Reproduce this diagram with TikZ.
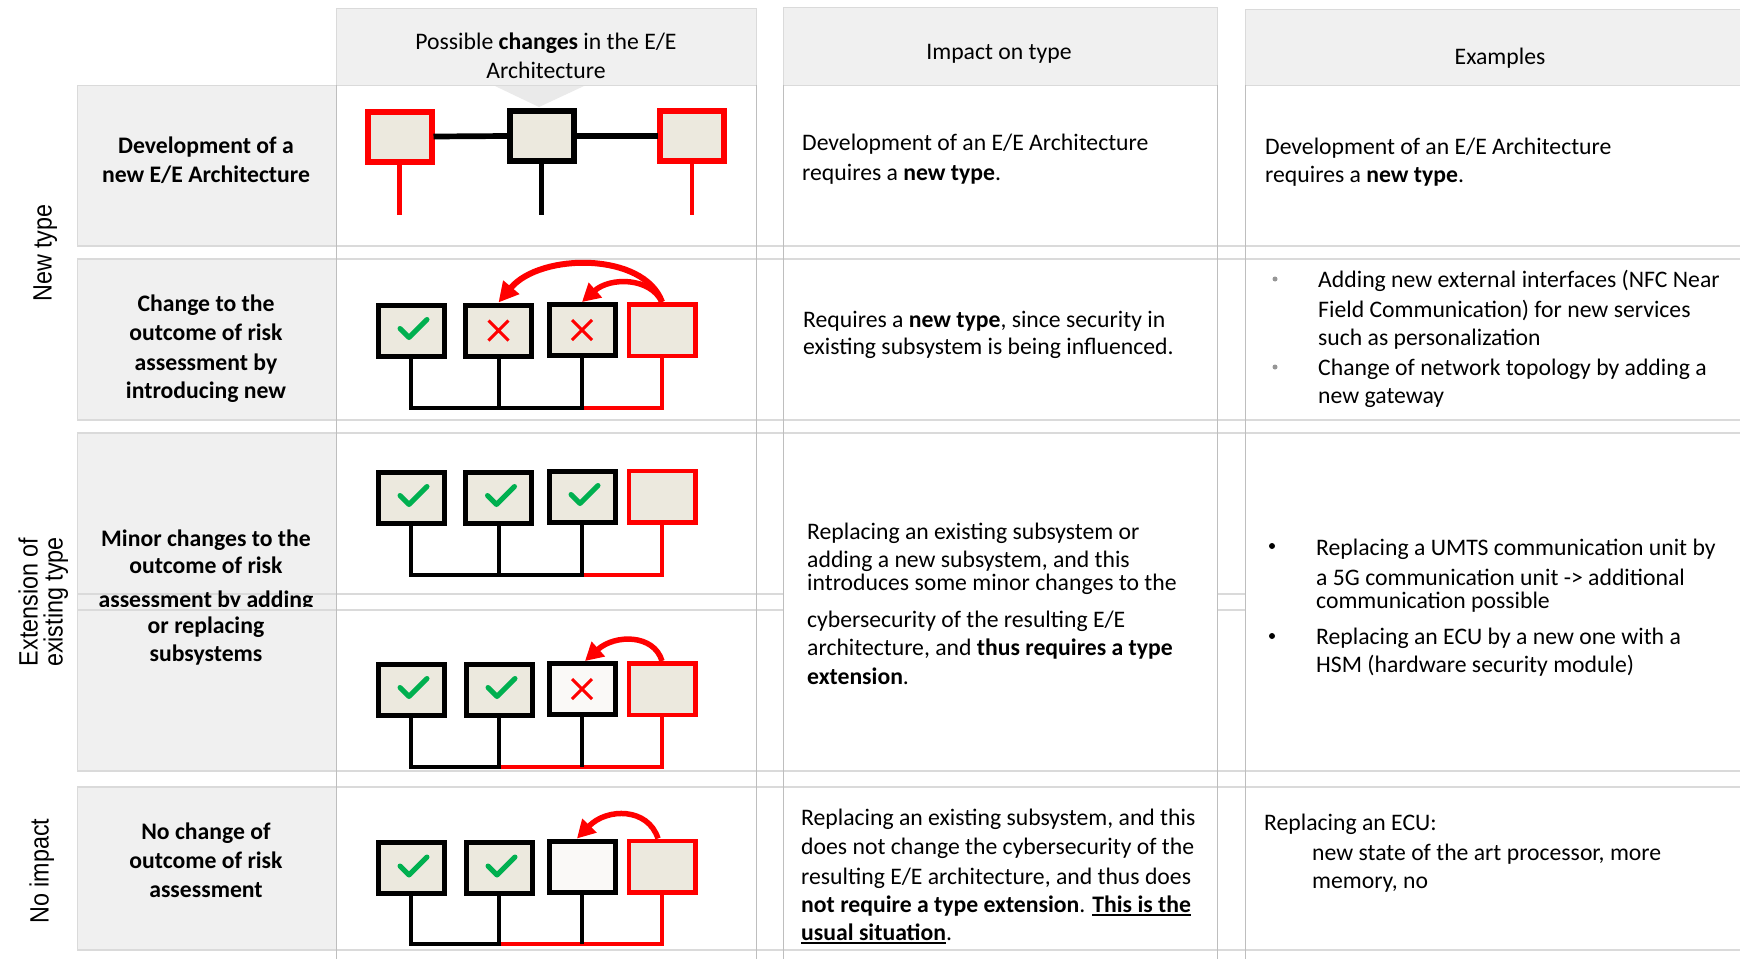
\documentclass[tikz,border=0pt]{standalone}
\usepackage{fontspec}
\setmainfont{Carlito}
\newfontfamily\sidefont[FakeStretch=0.88]{Liberation Sans}
\usetikzlibrary{arrows.meta}

\definecolor{hdrfill}{RGB}{240,240,240}
\definecolor{sidefill}{RGB}{240,240,240}
\definecolor{hgrid}{RGB}{218,218,218}
\definecolor{vgrid}{RGB}{190,190,190}
\definecolor{ptrfill}{RGB}{234,234,234}
\definecolor{ecufill}{RGB}{236,233,222}
\definecolor{ecupale}{RGB}{250,249,247}
\definecolor{newred}{RGB}{255,0,0}
\definecolor{okgreen}{RGB}{0,176,80}
\definecolor{dotgray}{RGB}{150,150,150}

\newcommand\bodysize{\fontsize{23.7}{29}\selectfont}
% underline drawn as a rule a little below the baseline
\newcommand\undl[1]{\setbox0\hbox{#1}\rlap{\rule[-4pt]{\wd0}{1.8pt}}\box0}

\begin{document}
\begin{tikzpicture}[x=1pt,y=-1pt,
  hdrcell/.style={fill=hdrfill,draw=hgrid,line width=1pt},
  sidecell/.style={fill=sidefill,draw=hgrid,line width=1pt},
  hline/.style={draw=hgrid,line width=1.2pt},
  vline/.style={draw=vgrid,line width=1pt},
  txt/.style={inner sep=0pt,font=\bodysize},
  lbl/.style={txt,font=\bodysize\bfseries,anchor=base},
  body/.style={txt,anchor=base west},
  head/.style={txt,anchor=base},
  side/.style={inner sep=0pt,rotate=90,font=\fontsize{26.5}{30}\sidefont,
               text height=19pt,text depth=0pt,anchor=center},
  ecu/.style={draw=black,line width=5pt,fill=ecufill,minimum width=66pt,
              minimum height=51pt,inner sep=0pt},
  newecu/.style={ecu,draw=newred,line width=4.5pt,minimum width=66.5pt,minimum height=51.5pt},
  paleecu/.style={ecu,fill=ecupale},
  bigecu/.style={draw=black,line width=6pt,fill=ecufill,minimum width=64pt,
                 minimum height=50pt,inner sep=0pt},
  bignew/.style={bigecu,draw=newred},
  link/.style={line width=5.7pt,shorten <=-1pt,shorten >=-1pt},
  bus/.style={line width=4pt},
  redbus/.style={bus,draw=newred},
  chk/.style={draw=okgreen,line width=5pt,line cap=round,line join=round},
  crs/.style={draw=newred,line width=3pt},
  mv/.style={draw=newred,line width=6pt,-{Triangle[length=20pt,width=20pt]}},
  mvs/.style={mv,line width=5.5pt,-{Triangle[length=18pt,width=19pt]}},
  gdot/.style={circle,fill=dotgray,inner sep=0pt,minimum size=5pt},
  bdot/.style={circle,fill=black,inner sep=0pt,minimum size=6pt}
]
\useasboundingbox (0,0) rectangle (1740,959);
\fill[white] (0,0) rectangle (1740,959);

% ---- column headers
\draw[hdrcell] (336,8) rectangle (756,85);
\draw[hdrcell] (783,7) rectangle (1217,85);
\draw[hdrcell] (1245,9) rectangle (1760,85);
\fill[ptrfill] (495,86) -- (584,86) -- (539,107) -- cycle;

% ---- row label cells
\draw[sidecell] (77,85) rectangle (336,246);
\draw[sidecell] (77,259) rectangle (336,420);
\draw[sidecell] (77,433) rectangle (336,771);
\draw[sidecell] (77,787) rectangle (336,950);

% ---- grid
\foreach \y in {246,259,420,433,771,787,950}
  \draw[hline] (77,\y) -- (1740,\y);
\foreach \y in {594,610} {
  \draw[hline] (77,\y) -- (783,\y);
  \draw[hline] (1217,\y) -- (1245,\y);
}
\foreach \x in {336,756,783,1217,1245}
  \draw[vline] (\x,85) -- (\x,959);

% ---- header texts
\node[head] (h1a) at (546,49) {Possible \textbf{changes} in the E/E};
\node[head] (h1b) at (546,78) {Architecture};
\node[head] (h2) at (999,59) {Impact on type};
\node[head] (h3) at (1500,64) {Examples};

% ---- group labels
\node[side] (sNew) at (42,253) {New type};
\node[side] (sExtA) at (28,602) {Extension of};
\node[side] (sExtB) at (53,602) {existing type};
\node[side] (sNo) at (39,871) {No impact};

% ---- row labels
\node[lbl] (l1a) at (206,153) {Development of a};
\node[lbl] (l1b) at (206,182) {new E/E Architecture};
\node[lbl] (l2a) at (206,311) {Change to the};
\node[lbl] (l2b) at (206,340) {outcome of risk};
\node[lbl] (l2c) at (206,370) {assessment by};
\node[lbl] (l2d) at (206,398) {introducing new};
\node[lbl] (l3a) at (206,546) {Minor changes to the};
\node[lbl] (l3b) at (206,573) {outcome of risk};
\begin{scope}
  \clip (77,580) rectangle (336,606.5);
  \node[lbl] (l3c) at (206,607) {assessment by adding};
\end{scope}
\node[lbl] (l3d) at (206,633) {or replacing};
\node[lbl] (l3e) at (206,661) {subsystems};
\node[lbl] (l4a) at (206,839) {No change of};
\node[lbl] (l4b) at (206,868) {outcome of risk};
\node[lbl] (l4c) at (206,897) {assessment};

% ---- row 1: new architecture
\node[bignew] (a1) at (399.5,136.5) {};
\node[bigecu] (a2) at (541.5,136) {};
\node[bignew] (a3) at (692,136) {};
\draw[link] (a1.east) -- (a2.west);
\draw[link] (a2.east) -- (a3.west);
\coordinate (a1e) at (399.5,215);
\coordinate (a2e) at (541.5,215);
\coordinate (a3e) at (692,215);
\draw[redbus,line width=4.5pt] (a1.south) -- (a1e);
\draw[bus,line width=4.5pt] (a2.south) -- (a2e);
\draw[redbus,line width=4.5pt] (a3.south) -- (a3e);

% ---- row 2: two subsystems influenced
\node[ecu] (b1) at (411,330.5) {};
\node[ecu] (b2) at (498.5,330.5) {};
\node[ecu] (b3) at (582,330) {};
\node[newecu] (b4) at (662,330) {};
\coordinate (bb) at (0,408);
\draw[redbus] (b3.south |- bb) -| (b4.south);
\draw[bus] (b1.south) |- (b3.south |- bb) -- (b3.south);
\draw[bus] (b2.south) -- (b2.south |- bb);
\draw[chk] ([shift={(-11,-2)}]b1.center) -- ([shift={(-2,7)}]b1.center) -- ([shift={(16,-11)}]b1.center);
\draw[crs] ([shift={(-10,-10)}]b2.center) -- ([shift={(10,10)}]b2.center)
           ([shift={(-10,10)}]b2.center) -- ([shift={(10,-10)}]b2.center);
\draw[crs] ([shift={(-10,-10)}]b3.center) -- ([shift={(10,10)}]b3.center)
           ([shift={(-10,10)}]b3.center) -- ([shift={(10,-10)}]b3.center);
\draw[mv] (b4.north) .. controls +(-18,-50) and +(42,-50) .. (b2.north);
\draw[mvs] (b4.north) .. controls +(-12,-25) and +(28,-25) .. (b3.north);

% ---- row 3a: all subsystems still fine
\node[ecu] (p1) at (411,497.5) {};
\node[ecu] (p2) at (498.5,497.5) {};
\node[ecu] (p3) at (582,496.5) {};
\node[newecu] (p4) at (662,496.5) {};
\coordinate (pb) at (0,575);
\draw[redbus] (p3.south |- pb) -| (p4.south);
\draw[bus] (p1.south) |- (p3.south |- pb) -- (p3.south);
\draw[bus] (p2.south) -- (p2.south |- pb);
\foreach \n in {p1,p2,p3}
  \draw[chk] ([shift={(-11,-2)}]\n.center) -- ([shift={(-2,7)}]\n.center) -- ([shift={(16,-11)}]\n.center);

% ---- row 3b: one subsystem replaced
\node[ecu] (q1) at (411,689.5) {};
\node[ecu] (q2) at (499,689.5) {};
\node[paleecu] (q3) at (582,689) {};
\node[newecu] (q4) at (662,689) {};
\coordinate (qb) at (0,767);
\draw[redbus] (q2.south |- qb) -| (q4.south);
\draw[bus] (q1.south) |- (q2.south |- qb) -- (q2.south);
\draw[bus] (q3.south) -- (q3.south |- qb);
\foreach \n in {q1,q2}
  \draw[chk] ([shift={(-11,-2)}]\n.center) -- ([shift={(-2,7)}]\n.center) -- ([shift={(16,-11)}]\n.center);
\draw[crs] ([shift={(-10,-10)}]q3.center) -- ([shift={(10,10)}]q3.center)
           ([shift={(-10,10)}]q3.center) -- ([shift={(10,-10)}]q3.center);
\draw[mvs] (q4.north) .. controls +(-8,-27) and +(30,-27) .. ([xshift=3pt]q3.north);

% ---- row 4: replaced without impact
\node[ecu] (r1) at (411,868) {};
\node[ecu] (r2) at (499,868) {};
\node[paleecu] (r3) at (582,866.5) {};
\node[newecu] (r4) at (662,866.5) {};
\coordinate (rb) at (0,944);
\draw[redbus] (r2.south |- rb) -| (r4.south);
\draw[bus] (r1.south) |- (r2.south |- rb) -- (r2.south);
\draw[bus] (r3.south) -- (r3.south |- rb);
\foreach \n in {r1,r2}
  \draw[chk] ([shift={(-11,-2)}]\n.center) -- ([shift={(-2,7)}]\n.center) -- ([shift={(16,-11)}]\n.center);
\draw[mvs] ([xshift=-4pt]r4.north) .. controls +(-10,-31) and +(30,-31) .. ([xshift=-5pt]r3.north);

% ---- impact on type
\node[body] (i1a) at (802,150) {Development of an E/E Architecture};
\node[body] (i1b) at (802,180) {requires a \textbf{new type}.};
\node[body] (i2a) at (803,327) {Requires a \textbf{new type}, since security in};
\node[body] (i2b) at (803,354) {existing subsystem is being influenced.};
\node[body] (i3a) at (807,539) {Replacing an existing subsystem or};
\node[body] (i3b) at (807,567) {adding a new subsystem, and this};
\node[body] (i3c) at (807,590) {introduces some minor changes to the};
\node[body] (i3d) at (807,627) {cybersecurity of the resulting E/E};
\node[body] (i3e) at (807,655) {architecture, and \textbf{thus requires a type}};
\node[body] (i3f) at (807,684) {\textbf{extension}.};
\node[body] (i4a) at (801,825) {Replacing an existing subsystem, and this};
\node[body] (i4b) at (801,854) {does not change the cybersecurity of the};
\node[body] (i4c) at (801,884) {resulting E/E architecture, and thus does};
\node[body] (i4d) at (801,912) {\textbf{not require a type extension}. \undl{\textbf{This is the}}};
\node[body] (i4e) at (801,940) {\undl{\textbf{usual situation}}.};

% ---- examples
\node[body] (e1a) at (1265,154) {Development of an E/E Architecture};
\node[body] (e1b) at (1265,182) {requires a \textbf{new type}.};
\node[gdot] (e2d1) at (1275,279) {};
\node[body] (e2a) at (1318,287) {Adding new external interfaces (NFC Near};
\node[body] (e2b) at (1318,317) {Field Communication) for new services};
\node[body] (e2c) at (1318,345) {such as personalization};
\node[gdot] (e2d2) at (1275,367) {};
\node[body] (e2e) at (1318,375) {Change of network topology by adding a};
\node[body] (e2f) at (1318,403) {new gateway};
\node[bdot] (e3d1) at (1272,546) {};
\node[body] (e3a) at (1316,555) {Replacing a UMTS communication unit by};
\node[body] (e3b) at (1316,585) {a 5G communication unit -> additional};
\node[body] (e3c) at (1316,608) {communication possible};
\node[bdot] (e3d2) at (1272,636) {};
\node[body] (e3e) at (1316,644) {Replacing an ECU by a new one with a};
\node[body] (e3f) at (1316,672) {HSM (hardware security module)};
\node[body] (e4a) at (1264,830) {Replacing an ECU:};
\node[body] (e4b) at (1312,860) {new state of the art processor, more};
\node[body] (e4c) at (1312,888) {memory, no};
\end{tikzpicture}
\end{document}
